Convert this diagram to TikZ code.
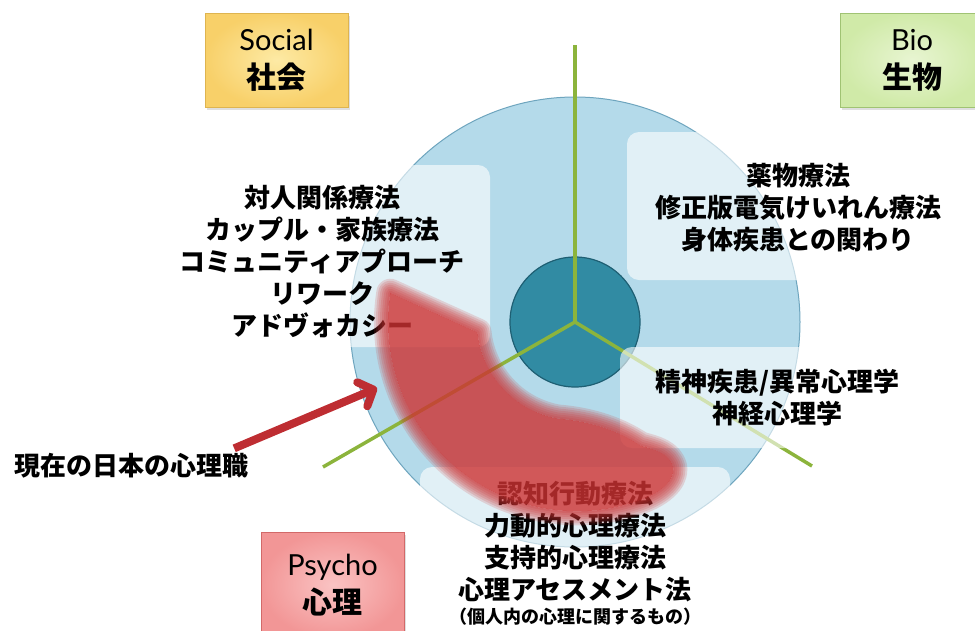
\documentclass[tikz,border=0pt]{standalone}
\usepackage{fontspec}
\setmainfont{Lato}
\newfontfamily\jp{Noto Sans CJK JP}
\usetikzlibrary{arrows.meta,shadows,positioning}

\definecolor{diskblue}{RGB}{180,218,234}
\definecolor{diskedge}{RGB}{110,165,190}
\definecolor{coreteal}{RGB}{49,139,163}
\definecolor{coreedge}{RGB}{30,95,115}
\definecolor{axisgreen}{RGB}{140,180,60}
\definecolor{bandred}{RGB}{205,50,50}
\definecolor{arrowred}{RGB}{190,45,50}
\definecolor{socin}{RGB}{253,234,165}
\definecolor{socout}{RGB}{248,208,105}
\definecolor{socedge}{RGB}{222,180,80}
\definecolor{bioin}{RGB}{232,245,210}
\definecolor{bioout}{RGB}{208,234,168}
\definecolor{bioedge}{RGB}{160,195,115}
\definecolor{psyin}{RGB}{250,195,195}
\definecolor{psyout}{RGB}{242,150,150}
\definecolor{psyedge}{RGB}{210,105,105}

% the blurred red band round the Psycho part
\newcommand{\bandpath}{([shift={(189:187)}]c) arc[start angle=189,end angle=72,radius=189]
  .. controls ([shift={(64:192)}]c) and ([shift={(58:188)}]c) .. ([shift={(56:176)}]c)
  .. controls ([shift={(54:162)}]c) and ([shift={(58:150)}]c) .. ([shift={(62:140)}]c)
  .. controls ([shift={(70:112)}]c) and ([shift={(85:99)}]c) .. ([shift={(100:98)}]c)
  arc[start angle=100,end angle=174,radius=98] -- cycle}
\newcommand{\catlabel}[2]{#1\\{\jp\bfseries\fontsize{30}{38}\selectfont #2}}

\begin{document}
\begin{tikzpicture}[x=1pt,y=-1pt]
    \tikzset{
        catbox/.style={draw,line width=0.8pt,minimum width=143pt,minimum height=94pt,align=center,
            font=\fontsize{29}{38}\selectfont,
            drop shadow={opacity=0.25,shadow xshift=1.5pt,shadow yshift=-2.5pt}},
        veil/.style={fill=white,opacity=0.6,rounded corners=12pt},
        axis/.style={draw=axisgreen,line width=3.5pt},
        jptext/.style={font=\jp\bfseries\fontsize{26}{32}\selectfont,align=center,inner sep=0pt}
    }
    \useasboundingbox (0,0) rectangle (975,630);
    \coordinate (c) at (575,322);

    \node[circle,draw=diskedge,fill=diskblue,line width=1pt,minimum size=450pt] (disk) at (c) {};
    \node[circle,draw=coreedge,fill=coreteal,line width=1.2pt,minimum size=130pt] (core) at (c) {};

    \coordinate (bioend) at (575,45);
    \coordinate (psyend) at (323,467);
    \coordinate (socend) at (812,466);
    \draw[axis] (core.center) -- (bioend);
    \draw[axis] (core.center) -- (psyend);
    \draw[axis] (core.center) -- (socend);

    \fill[veil] (150,165) rectangle (490,347);
    \fill[veil] (627,132) rectangle (995,280);
    \fill[veil] (620,347) rectangle (995,448);
    \fill[veil] (420,467) rectangle (730,650);

    \node[jptext] (soclist) at (322,262) {対人関係療法\\カップル・家族療法\\コミュニティアプローチ\\リワーク\\アドヴォカシー};
    \node[jptext] (biolist) at (798,208) {薬物療法\\修正版電気けいれん療法\\身体疾患との関わり};
    \node[jptext] (patholist) at (777,398) {精神疾患/異常心理学\\神経心理学};
    \node[jptext] (psylist) at (575,542) {認知行動療法\\力動的心理療法\\支持的心理療法\\心理アセスメント法};
    \node[jptext,font=\jp\bfseries\fontsize{18}{22}\selectfont,below=5pt of psylist] (psynote) {（個人内の心理に関するもの）};

    % red band, soft edge
    \begin{scope}[even odd rule]
        \clip (-50,-50) rectangle (1025,680) \bandpath;
        \foreach \w in {4,8,...,28}
            \draw[bandred,line width=\w pt,opacity=0.17,line join=round] \bandpath;
    \end{scope}
    \fill[bandred,opacity=0.8] \bandpath;

    \node[jptext] (now) at (131,466) {現在の日本の心理職};
    \coordinate (nowtip) at (377,388);
    \draw[arrowred,line width=8pt,-{Straight Barb[length=12pt,width=26pt,round]}] ([xshift=-14pt,yshift=5pt]now.north east) -- (nowtip);

    \node[catbox,draw=socedge,inner color=socin,outer color=socout] (social) at (276.5,60) {\catlabel{Social}{社会}};
    \node[catbox,draw=bioedge,inner color=bioin,outer color=bioout] (bio) at (912,60) {\catlabel{Bio}{生物}};
    \node[catbox,draw=psyedge,minimum height=106pt,inner color=psyin,outer color=psyout] (psycho) at (332.5,585) {\catlabel{Psycho}{心理}};
\end{tikzpicture}
\end{document}
